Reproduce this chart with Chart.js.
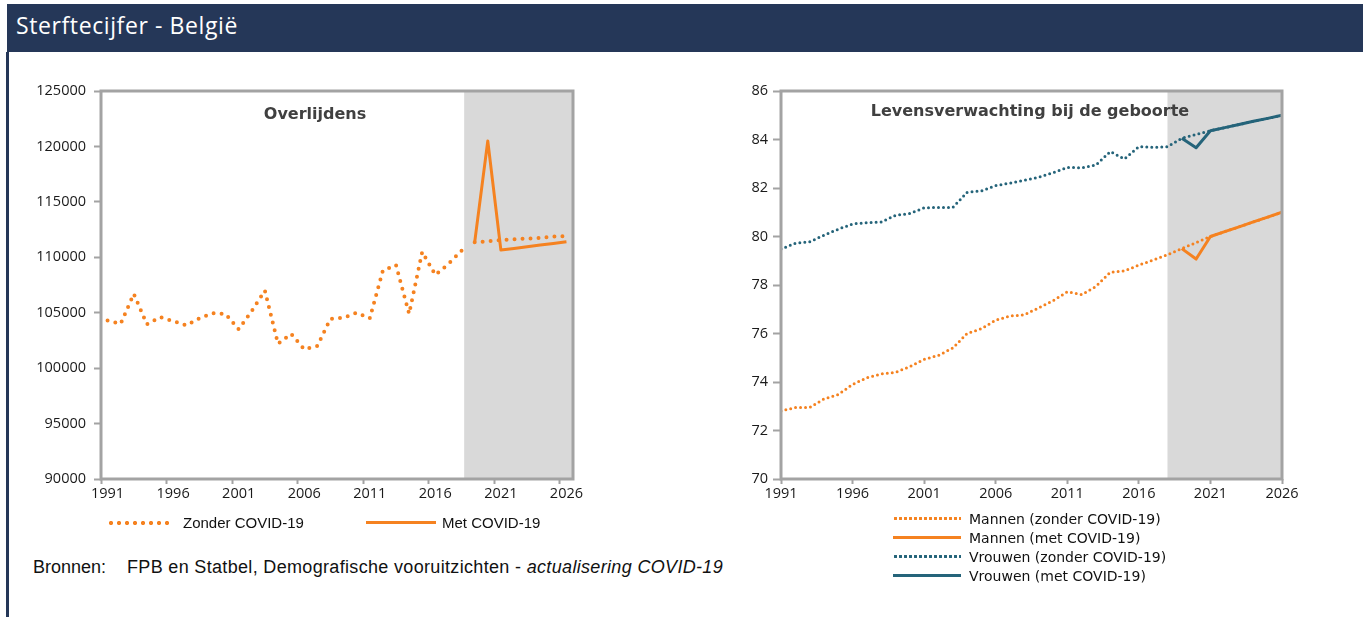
<!DOCTYPE html>
<html lang="nl">
<head>
    <meta charset="UTF-8">
    <title>Sterftecijfer - België</title>
    <style>
        body {
            margin: 0;
            width: 1363px;
            height: 617px;
            position: relative;
            overflow: hidden;
            background: #fff;
            font-family: 'Liberation Sans', Arial, sans-serif;
        }
        .header {
            position: absolute;
            left: 7px; top: 4px; right: 0; height: 48px;
            background: #253758;
        }
        .header h1 {
            margin: 0;
            position: absolute;
            left: 9px; top: 5px;
            font: 400 23px 'Open Sans', sans-serif;
            letter-spacing: 0.6px;
            color: #fff;
        }
        .rule {
            position: absolute;
            left: 6px; top: 52px; bottom: 0; width: 3px;
            background: #253758;
        }
        .chart { position: absolute; top: 60px; height: 460px; }
        #leftBox { left: 0; width: 600px; }
        #rightBox { left: 680px; width: 640px; }
        .ptitle {
            position: absolute;
            transform: translate(-50%, -50%);
            white-space: nowrap;
            font: bold 16px 'DejaVu Sans', sans-serif;
            color: #404040;
        }
        .legend { position: absolute; font-size: 15px; color: #111; }
        .legend .item { position: absolute; white-space: nowrap; display: flex; align-items: center; }
        .sample { display: inline-block; margin-right: 6px; }
        .dots-big { width: 64px; height: 4px; margin-right: 12px; background-image: radial-gradient(circle, #f58220 1.9px, transparent 2.3px); background-size: 8px 4px; }
        .solid-or { width: 70px; height: 3px; background: #f58220; }
        .rlegend { position: absolute; left: 893px; top: 509px; font: 14px 'DejaVu Sans', sans-serif; color: #111; }
        .rlegend .row { height: 19px; display: flex; align-items: center; white-space: nowrap; }
        .rlegend .sample { width: 68px; margin-right: 8px; }
        .dots-sm { height: 3px; background-size: 5px 3px; }
        .source { position: absolute; left: 33px; top: 557px; font-size: 18px; color: #111; white-space: nowrap; }
        .source .lbl { display: inline-block; width: 94px; }
        .source .txt { letter-spacing: 0.33px; }
    </style>
    <script src="https://cdn.jsdelivr.net/npm/chart.js"></script>
</head>
<body>
<div class="header"><h1>Sterftecijfer - België</h1></div>
<div class="rule"></div>

<div class="chart" id="leftBox"><canvas id="leftChart"></canvas></div>
<div class="chart" id="rightBox"><canvas id="rightChart"></canvas></div>
<div class="ptitle" style="left:315px; top:113px;">Overlijdens</div>
<div class="ptitle" style="left:1030px; top:110px;">Levensverwachting bij de geboorte</div>

<div class="legend" style="left:0; top:514px;">
    <div class="item" style="left:107px;"><span class="sample dots-big"></span>Zonder COVID-19</div>
    <div class="item" style="left:366px;"><span class="sample solid-or"></span>Met COVID-19</div>
</div>

<div class="rlegend">
    <div class="row"><span class="sample dots-sm" style="background-image: radial-gradient(circle, #f58220 1.4px, transparent 1.8px);"></span>Mannen (zonder COVID-19)</div>
    <div class="row"><span class="sample" style="height:3px; background:#f58220;"></span>Mannen (met COVID-19)</div>
    <div class="row"><span class="sample dots-sm" style="background-image: radial-gradient(circle, #25647a 1.4px, transparent 1.8px);"></span>Vrouwen (zonder COVID-19)</div>
    <div class="row"><span class="sample" style="height:3px; background:#25647a;"></span>Vrouwen (met COVID-19)</div>
</div>

<div class="source"><span class="lbl">Bronnen:</span><span class="txt">FPB en Statbel, Demografische vooruitzichten - <i>actualisering COVID-19</i></span></div>

<script>
    // jaren (categorieën)
    const years = [1991, 1992, 1993, 1994, 1995, 1996, 1997, 1998, 1999, 2000,
                   2001, 2002, 2003, 2004, 2005, 2006, 2007, 2008, 2009, 2010,
                   2011, 2012, 2013, 2014, 2015, 2016, 2017, 2018, 2019, 2020,
                   2021, 2022, 2023, 2024, 2025, 2026];
    const tickYears = [1991, 1996, 2001, 2006, 2011, 2016, 2021, 2026];

    // overlijdens: waarnemingen 1991-2018, vooruitzichten 2019-2026
    const deathsObserved = [104300, 104000, 106700, 103950, 104600, 104250, 103850, 104500, 104950, 104900,
                            103500, 105150, 107000, 102200, 103100, 101700, 102000, 104450, 104550, 105000,
                            104500, 108800, 109300, 104900, 110500, 108400, 109400, 110600];
    const deathsZonder = [111350, 111430, 111560, 111630, 111680, 111740, 111860, 111930];
    const deathsMet = [111350, 120500, 110650, 110800, 110950, 111100, 111250, 111400];

    // levensverwachting bij de geboorte
    const mannenZonder = [72.8, 72.95, 72.95, 73.3, 73.48, 73.9, 74.18, 74.33, 74.4, 74.63,
                          74.93, 75.1, 75.4, 76.0, 76.2, 76.55, 76.72, 76.77, 77.06, 77.35,
                          77.72, 77.6, 77.94, 78.52, 78.58, 78.82, 79.03, 79.25, 79.5, 79.75,
                          80.0, 80.2, 80.4, 80.6, 80.8, 81.0];
    const mannenMet = [79.5, 79.07, 80.0, 80.2, 80.4, 80.6, 80.8, 81.0];
    const vrouwenZonder = [79.48, 79.72, 79.78, 80.05, 80.3, 80.52, 80.57, 80.6, 80.87, 80.95,
                           81.18, 81.2, 81.2, 81.82, 81.88, 82.1, 82.2, 82.32, 82.44, 82.63,
                           82.85, 82.83, 82.95, 83.5, 83.2, 83.7, 83.68, 83.7, 84.05, 84.21,
                           84.36, 84.49, 84.62, 84.75, 84.87, 85.0];
    const vrouwenMet = [84.05, 83.66, 84.36, 84.49, 84.62, 84.75, 84.87, 85.0];

    const projectionStartLeft = 2018.2;
    const projectionStartRight = 2018;

    const ORANGE = '#f58220';
    const TEAL = '#25647a';
    const AXIS = '#a3a3a3';
    const SHADE = '#d9d9d9';

    Chart.defaults.font.family = "'Open Sans', sans-serif";
    Chart.defaults.font.size = 14.5;
    Chart.defaults.color = '#1a1a1a';

    // vul een reeks aan met null zodat hij op de juiste jaren valt
    function atYears(firstYear, values) {
        return years.map(y => {
            const i = y - firstYear;
            return i >= 0 && i < values.length ? values[i] : null;
        });
    }

    // grijze zone (vooruitzichten) en kader rond het grafiekvlak
    const framePlugin = {
        id: 'frame',
        beforeDatasetsDraw(chart, args, opts) {
            const { ctx, chartArea: a, scales: { x } } = chart;
            const from = x.getPixelForValue(opts.shadeValue);
            ctx.save();
            ctx.fillStyle = SHADE;
            ctx.fillRect(from, a.top, a.right - from, a.bottom - a.top);
            ctx.restore();
        },
        afterDraw(chart) {
            const { ctx, chartArea: a } = chart;
            ctx.save();
            ctx.strokeStyle = AXIS;
            ctx.lineWidth = 3;
            ctx.strokeRect(a.left, a.top, a.right - a.left, a.bottom - a.top);
            ctx.restore();
        }
    };

    const dotted = (color, width, gap) => ({
        borderColor: color,
        borderWidth: width,
        borderDash: [0, gap],
        borderCapStyle: 'round',
        pointRadius: 0,
        tension: 0,
        fill: false
    });
    const solid = (color, width) => ({
        borderColor: color,
        borderWidth: width,
        borderJoinStyle: 'round',
        pointRadius: 0,
        tension: 0,
        fill: false
    });

    // Overlijdens
    new Chart(document.getElementById('leftChart'), {
        type: 'line',
        data: {
            labels: years.map(String),
            datasets: [
                { label: 'Met COVID-19', data: atYears(2019, deathsMet), ...solid(ORANGE, 3) },
                { label: 'Zonder COVID-19', data: atYears(1991, deathsObserved), ...dotted(ORANGE, 4, 8) },
                { label: 'Zonder COVID-19 (vooruitzicht)', data: atYears(2019, deathsZonder), ...dotted(ORANGE, 4, 8) }
            ]
        },
        options: {
            responsive: true,
            maintainAspectRatio: false,
            animation: false,
            layout: { padding: { top: 31, right: 27, left: 0, bottom: 0 } },
            plugins: {
                legend: { display: false },
                tooltip: { enabled: false },
                frame: { shadeValue: projectionStartLeft - years[0] }
            },
            scales: {
                x: {
                    type: 'category',
                    offset: true,
                    afterFit: s => { s.height = 41; },
                    border: { display: false },
                    grid: {
                        offset: true,
                        drawOnChartArea: false,
                        tickLength: 5,
                        tickWidth: 2,
                        color: c => (c.index % 5 === 0 ? AXIS : 'rgba(0,0,0,0)')
                    },
                    ticks: {
                        autoSkip: false,
                        maxRotation: 0,
                        padding: 1,
                        callback: (v, i) => (i % 5 === 0 ? years[i] : '')
                    }
                },
                y: {
                    min: 90000,
                    max: 125000,
                    afterFit: s => { s.width = 101; },
                    border: { display: false },
                    grid: { drawOnChartArea: false, tickLength: 7, tickWidth: 2, color: AXIS },
                    ticks: { stepSize: 5000, padding: 8, callback: v => v }
                }
            }
        },
        plugins: [framePlugin]
    });

    // Levensverwachting bij de geboorte
    new Chart(document.getElementById('rightChart'), {
        type: 'line',
        data: {
            datasets: [
                { label: 'Mannen (zonder COVID-19)', data: years.map((y, i) => ({ x: y, y: mannenZonder[i] })), ...dotted(ORANGE, 3, 5) },
                { label: 'Vrouwen (zonder COVID-19)', data: years.map((y, i) => ({ x: y, y: vrouwenZonder[i] })), ...dotted(TEAL, 3, 5) },
                { label: 'Mannen (met COVID-19)', data: mannenMet.map((v, i) => ({ x: 2019 + i, y: v })), ...solid(ORANGE, 3) },
                { label: 'Vrouwen (met COVID-19)', data: vrouwenMet.map((v, i) => ({ x: 2019 + i, y: v })), ...solid(TEAL, 3) }
            ]
        },
        options: {
            responsive: true,
            maintainAspectRatio: false,
            animation: false,
            layout: { padding: { top: 31, right: 38, left: 0, bottom: 0 } },
            plugins: {
                legend: { display: false },
                tooltip: { enabled: false },
                frame: { shadeValue: projectionStartRight }
            },
            scales: {
                x: {
                    type: 'linear',
                    min: years[0],
                    max: years[years.length - 1],
                    afterFit: s => { s.height = 41; },
                    afterBuildTicks: s => { s.ticks = tickYears.map(v => ({ value: v })); },
                    border: { display: false },
                    grid: { drawOnChartArea: false, tickLength: 5, tickWidth: 2, color: AXIS },
                    ticks: { maxRotation: 0, padding: 1, callback: v => String(v) }
                },
                y: {
                    min: 70,
                    max: 86,
                    afterFit: s => { s.width = 101; },
                    border: { display: false },
                    grid: { drawOnChartArea: false, tickLength: 8, tickWidth: 2, color: AXIS },
                    ticks: { stepSize: 2, padding: 5 }
                }
            }
        },
        plugins: [framePlugin]
    });
</script>
</body>
</html>
